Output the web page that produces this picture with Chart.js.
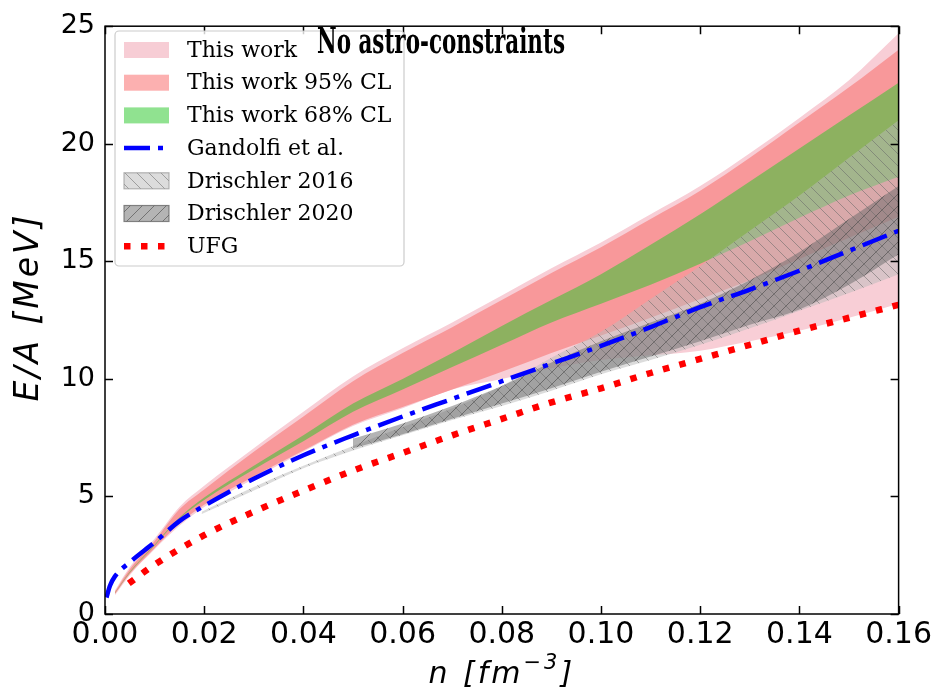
<!DOCTYPE html>
<html>
<head>
<meta charset="utf-8">
<script src="https://cdn.jsdelivr.net/npm/chart.js@4.4.1/dist/chart.umd.min.js"></script>
<style>
  html, body { margin: 0; padding: 0; background: #fff; }
  canvas { display: block; }
</style>
</head>
<body>
<canvas id="eos" width="935" height="696"></canvas>
<script>
// ── data ─────────────────────────────────────────────────────────────────────
const nBand      = [0.002, 0.005, 0.01, 0.015, 0.02, 0.03, 0.04, 0.05, 0.06, 0.07, 0.08, 0.09, 0.10, 0.11, 0.12, 0.13, 0.14, 0.15, 0.16]
const thisWorkHi = [1.0, 2.0, 3.2, 4.55, 5.45, 7.05, 8.6, 10.1, 11.3, 12.4, 13.55, 14.7, 15.8, 17.0, 18.2, 19.6, 21.1, 22.7, 24.7]
const thisWorkLo = [0.8, 1.65, 2.75, 3.75, 4.55, 5.75, 6.9, 8.0, 8.75, 9.55, 10.0, 10.45, 10.8, 11.0, 11.2, 11.6, 12.05, 12.6, 13.2]
const cl95Hi     = [0.95, 1.9, 3.1, 4.45, 5.3, 6.9, 8.4, 9.9, 11.1, 12.2, 13.35, 14.5, 15.6, 16.8, 18.0, 19.4, 20.9, 22.4, 24.0]
const cl95Lo     = [0.85, 1.7, 2.8, 3.85, 4.65, 5.85, 6.95, 8.05, 8.8, 9.55, 10.3, 11.1, 11.85, 12.6, 13.4, 14.2, 15.1, 16.0, 16.9]
const cl68Hi     = [0.9, 1.8, 2.95, 4.1, 4.95, 6.3, 7.6, 8.95, 10.0, 11.1, 12.25, 13.35, 14.45, 15.7, 17.0, 18.4, 19.8, 21.2, 22.6]
const cl68Lo     = [0.88, 1.75, 2.9, 4.05, 4.85, 6.15, 7.35, 8.6, 9.55, 10.5, 11.45, 12.4, 13.2, 14.0, 14.9, 15.85, 16.85, 17.8, 18.6]

const nDr16  = [0.0195, 0.03, 0.04, 0.05, 0.06, 0.07, 0.08, 0.09, 0.10, 0.11, 0.12, 0.13, 0.14, 0.15, 0.16]
const dr16Lo = [4.25, 5.25, 6.2, 6.95, 7.6, 8.25, 8.85, 9.5, 10.2, 10.8, 11.45, 12.15, 12.9, 13.65, 14.45]
const dr16Hi = [4.35, 5.4, 6.3, 7.15, 7.95, 8.75, 9.7, 10.9, 12.0, 13.4, 14.8, 16.3, 17.8, 19.4, 21.0]

const nDr20  = [0.05, 0.06, 0.07, 0.08, 0.09, 0.10, 0.11, 0.12, 0.13, 0.14, 0.15, 0.16]
const dr20Lo = [7.05, 7.65, 8.3, 8.95, 9.6, 10.3, 10.95, 11.6, 12.3, 12.95, 14.0, 15.3]
const dr20Hi = [7.45, 8.1, 8.85, 9.7, 10.7, 11.6, 12.4, 13.2, 14.2, 15.4, 16.8, 18.2]

const nGandolfi = [0.0003, 0.001, 0.002, 0.005, 0.01, 0.015, 0.02, 0.03, 0.04, 0.05, 0.06, 0.07, 0.08, 0.09, 0.10, 0.11, 0.12, 0.13, 0.14, 0.15, 0.16]
const eGandolfi = [0.7, 1.2, 1.6, 2.2, 3.05, 3.95, 4.6, 5.75, 6.75, 7.6, 8.4, 9.15, 9.9, 10.65, 11.4, 12.2, 13.05, 13.8, 14.6, 15.45, 16.3]

const nUFG = [0.0048, 0.01, 0.02, 0.03, 0.04, 0.05, 0.06, 0.07, 0.08, 0.09, 0.10, 0.11, 0.12, 0.13, 0.14, 0.15, 0.16]
const eUFG = [1.3, 2.1, 3.35, 4.35, 5.25, 6.1, 6.85, 7.6, 8.3, 9.0, 9.6, 10.25, 10.85, 11.45, 12.05, 12.6, 13.15]

const xTicks = [0, 0.16, 0.02]   // min, max, step
const yTicks = [0, 25, 5]

// ── styles ───────────────────────────────────────────────────────────────────
const PINK   = 'rgb(248,206,214)'
const SALMON = 'rgb(248,152,154)'
const GREEN  = 'rgb(141,177,96)'
const BLUE_DASH = [26, 8, 5, 8]
const RED_DOT   = [6.5, 10.5]

function hatch(bg, line, dir, s = 12) {
  const c = document.createElement('canvas')
  c.width = c.height = s
  const g = c.getContext('2d')
  g.fillStyle = bg
  g.fillRect(0, 0, s, s)
  g.strokeStyle = line
  g.lineWidth = 1
  g.beginPath()
  if (dir === '/') {
    g.moveTo(0, s); g.lineTo(s, 0)
    g.moveTo(-2, 2); g.lineTo(2, -2)
    g.moveTo(s - 2, s + 2); g.lineTo(s + 2, s - 2)
  } else {
    g.moveTo(0, 0); g.lineTo(s, s)
    g.moveTo(-2, s - 2); g.lineTo(2, s + 2)
    g.moveTo(s - 2, -2); g.lineTo(s + 2, 2)
  }
  g.stroke()
  return g.createPattern(c, 'repeat')
}
const DR16_FILL = hatch('rgba(185,185,185,0.5)', 'rgba(105,105,105,0.55)', '\\')
const DR20_FILL = hatch('rgba(105,105,105,0.5)', 'rgba(70,70,70,0.6)', '/')

const xy = (xs, ys) => xs.map((x, i) => ({ x, y: ys[i] }))

function band(xs, lo, hi, color, order) {
  const base = { borderWidth: 0, borderColor: 'transparent', pointRadius: 0, order, cubicInterpolationMode: 'monotone' }
  return [
    { ...base, data: xy(xs, lo), fill: false },
    { ...base, data: xy(xs, hi), fill: '-1', backgroundColor: color },
  ]
}

// ── legend / frame / labels plugin ───────────────────────────────────────────
const LEGEND = [
  { label: 'This work',        kind: 'box',  fill: 'rgb(247,205,213)' },
  { label: 'This work 95% CL', kind: 'box',  fill: 'rgb(252,176,176)' },
  { label: 'This work 68% CL', kind: 'box',  fill: 'rgb(144,226,144)' },
  { label: 'Gandolfi et al.',  kind: 'line', color: '#0000ff', width: 4.5, dash: BLUE_DASH },
  { label: 'Drischler 2016',   kind: 'box',  fill: DR16_FILL, edge: 'rgba(150,150,150,0.7)' },
  { label: 'Drischler 2020',   kind: 'box',  fill: DR20_FILL, edge: 'rgba(90,90,90,0.7)' },
  { label: 'UFG',              kind: 'line', color: '#ff0000', width: 6.5, dash: RED_DOT },
]

const decor = {
  id: 'decor',
  afterDraw(chart) {
    const { ctx, chartArea: a, scales: { x, y } } = chart
    ctx.save()
    // frame + inward ticks on all four sides
    ctx.strokeStyle = '#000'
    ctx.lineWidth = 1.5
    ctx.strokeRect(a.left, a.top, a.right - a.left, a.bottom - a.top)
    ctx.beginPath()
    x.ticks.forEach(t => {
      const px = Math.round(x.getPixelForValue(t.value)) + 0.5
      ctx.moveTo(px, a.bottom); ctx.lineTo(px, a.bottom - 8)
      ctx.moveTo(px, a.top);    ctx.lineTo(px, a.top + 8)
    })
    y.ticks.forEach(t => {
      const py = Math.round(y.getPixelForValue(t.value)) + 0.5
      ctx.moveTo(a.left, py);  ctx.lineTo(a.left + 8, py)
      ctx.moveTo(a.right, py); ctx.lineTo(a.right - 8, py)
    })
    ctx.stroke()

    // axis titles
    ctx.fillStyle = '#000'
    ctx.textBaseline = 'alphabetic'
    ctx.textAlign = 'left'
    ctx.letterSpacing = '3px'
    const p1 = 'n [fm', p2 = '\u22123', p3 = ']'
    ctx.font = 'italic 30px "DejaVu Sans"'
    const w1 = ctx.measureText(p1).width, w3 = ctx.measureText(p3).width
    ctx.font = 'italic 21px "DejaVu Sans"'
    const w2 = ctx.measureText(p2).width
    const tx = (a.left + a.right) / 2 - (w1 + w2 + w3) / 2
    ctx.font = 'italic 30px "DejaVu Sans"'
    ctx.fillText(p1, tx, 683)
    ctx.font = 'italic 21px "DejaVu Sans"'
    ctx.fillText(p2, tx + w1, 669)
    ctx.font = 'italic 30px "DejaVu Sans"'
    ctx.fillText(p3, tx + w1 + w2, 683)

    ctx.save()
    ctx.textAlign = 'center'
    ctx.textBaseline = 'middle'
    ctx.font = 'italic 33px "DejaVu Sans"'
    ctx.translate(29, 307)
    ctx.rotate(-Math.PI / 2)
    ctx.letterSpacing = '3px'
    ctx.fillText('E/A [MeV]', 0, 0)
    ctx.restore()
    ctx.letterSpacing = '0px'

    // legend
    const L = { x: 115, y: 31, w: 289, h: 235 }
    ctx.beginPath()
    ctx.roundRect(L.x, L.y, L.w, L.h, 4)
    ctx.fillStyle = 'rgba(255,255,255,0.8)'
    ctx.fill()
    ctx.strokeStyle = '#cccccc'
    ctx.lineWidth = 1.2
    ctx.stroke()
    ctx.font = '22px "DejaVu Serif"'
    ctx.textAlign = 'left'
    ctx.textBaseline = 'middle'
    LEGEND.forEach((it, i) => {
      const cy = 50 + i * 32.7
      if (it.kind === 'box') {
        ctx.fillStyle = it.fill
        ctx.fillRect(124, cy - 8, 45, 16)
        if (it.edge) {
          ctx.strokeStyle = it.edge
          ctx.lineWidth = 1.2
          ctx.strokeRect(124, cy - 8, 45, 16)
        }
      } else {
        ctx.strokeStyle = it.color
        ctx.lineWidth = it.width
        ctx.setLineDash(it.dash)
        ctx.beginPath()
        ctx.moveTo(124, cy); ctx.lineTo(169, cy)
        ctx.stroke()
        ctx.setLineDash([])
      }
      ctx.fillStyle = '#000'
      ctx.fillText(it.label, 187, cy + 1)
    })

    // panel label, drawn over the legend box as in the figure
    ctx.textAlign = 'center'
    ctx.font = 'bold 36px "DejaVu Serif"'
    ctx.fillStyle = '#000'
    ctx.fillText('No astro-constraints', 441, 44, 248)
    ctx.restore()
  }
}

// ── chart ────────────────────────────────────────────────────────────────────
new Chart(document.getElementById('eos'), {
  type: 'line',
  data: {
    datasets: [
      ...band(nBand, thisWorkLo, thisWorkHi, PINK, 10),
      ...band(nBand, cl95Lo, cl95Hi, SALMON, 9),
      ...band(nBand, cl68Lo, cl68Hi, GREEN, 8),
      ...band(nDr16, dr16Lo, dr16Hi, DR16_FILL, 7),
      ...band(nDr20, dr20Lo, dr20Hi, DR20_FILL, 6),
      { data: xy(nGandolfi, eGandolfi), borderColor: '#0000ff', borderWidth: 4.5, borderDash: BLUE_DASH,
        borderCapStyle: 'butt', pointRadius: 0, fill: false, order: 1, cubicInterpolationMode: 'monotone' },
      { data: xy(nUFG, eUFG), borderColor: '#ff0000', borderWidth: 6.5, borderDash: RED_DOT,
        borderCapStyle: 'butt', pointRadius: 0, fill: false, order: 0, cubicInterpolationMode: 'monotone' },
    ],
  },
  options: {
    responsive: false,
    devicePixelRatio: 1,
    animation: false,
    layout: { padding: { top: 19, right: 35, left: 0, bottom: 0 } },
    plugins: { legend: { display: false }, tooltip: { enabled: false } },
    scales: {
      x: {
        type: 'linear', min: xTicks[0], max: xTicks[1],
        ticks: { stepSize: xTicks[2], callback: v => v.toFixed(2), color: '#000', padding: 3,
                 maxRotation: 0, autoSkip: false, font: { family: 'DejaVu Sans', size: 30 } },
        grid: { display: false, drawTicks: false },
        border: { display: false },
        afterFit: s => { s.height = 82 },
      },
      y: {
        min: yTicks[0], max: yTicks[1],
        ticks: { stepSize: yTicks[2], color: '#000', padding: 10, font: { family: 'DejaVu Sans', size: 27 } },
        grid: { display: false, drawTicks: false },
        border: { display: false },
        afterFit: s => { s.width = 105 },
      },
    },
  },
  plugins: [decor],
})
</script>
</body>
</html>
